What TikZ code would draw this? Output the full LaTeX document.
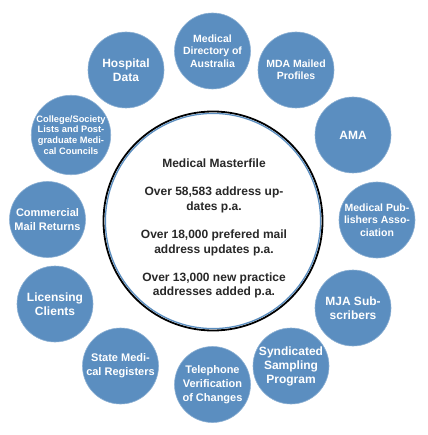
\documentclass[tikz,border=0pt]{standalone}
\usepackage{fontspec}
\setmainfont{Liberation Sans}
\definecolor{bub}{RGB}{91,142,192}
\definecolor{ctext}{RGB}{40,40,40}
\begin{document}
\begin{tikzpicture}[x=1pt,y=-1pt,
  bubble/.style={circle,fill=bub,draw=bub!70!white,line width=0.6pt,minimum size=76pt,inner sep=0pt,text=white,font=\bfseries,align=center},
  fs12/.style={font=\fontsize{12}{14}\selectfont\bfseries},
  fs11/.style={font=\fontsize{11}{14}\selectfont\bfseries},
  fs10/.style={font=\fontsize{10.5}{12.5}\selectfont\bfseries},
  fs9/.style={font=\fontsize{9.3}{10.8}\selectfont\bfseries}]
\useasboundingbox (0,0) rectangle (427,435);
% central circle
\node[circle,minimum size=219pt,inner sep=0pt,draw=black,line width=1.8pt,fill=white] (main) at (213,221) {};
\draw[bub,line width=1.3pt] (213,221) circle (107.6);
\node[text=ctext,align=center,font=\fontsize{12}{14.3}\selectfont\bfseries] (mtext) at (214,228.5)
 {Medical Masterfile\\[14.3pt]Over 58,583 address up-\\dates p.a.\\[14.3pt]Over 18,000 prefered mail\\address updates p.a.\\[14.3pt]Over 13,000 new practice\\addresses added p.a.};
% surrounding bubbles
\node[bubble,fs12] (hosp) at (126,70) {Hospital\\Data};
\node[bubble,fs10] (mda) at (212.5,51) {Medical\\Directory of\\Australia};
\node[bubble,fs10] (mdam) at (296,70) {MDA Mailed\\Profiles};
\node[bubble,fs12] (ama) at (353,135) {AMA};
\node[bubble,fs10] (mpa) at (377,220) {Medical Pub-\\lishers Asso-\\ciation};
\node[bubble,fs12] (mja) at (353,308) {MJA Sub-\\scribers};
\node[bubble,fs12] (synd) at (291,366) {Syndicated\\Sampling\\Program};
\node[bubble,fs11] (tel) at (212.5,384.5) {Telephone\\Verification\\of Changes};
\node[bubble,fs11] (state) at (120.5,366) {State Medi-\\cal Registers};
\node[bubble,fs12] (lic) at (55,304) {Licensing\\Clients};
\node[bubble,fs11] (comm) at (47.5,219.5) {Commercial\\Mail Returns};
\node[bubble,fs9] (coll) at (71,135) {College/Society\\Lists and Post-\\graduate Medi-\\cal Councils};
\end{tikzpicture}
\end{document}
